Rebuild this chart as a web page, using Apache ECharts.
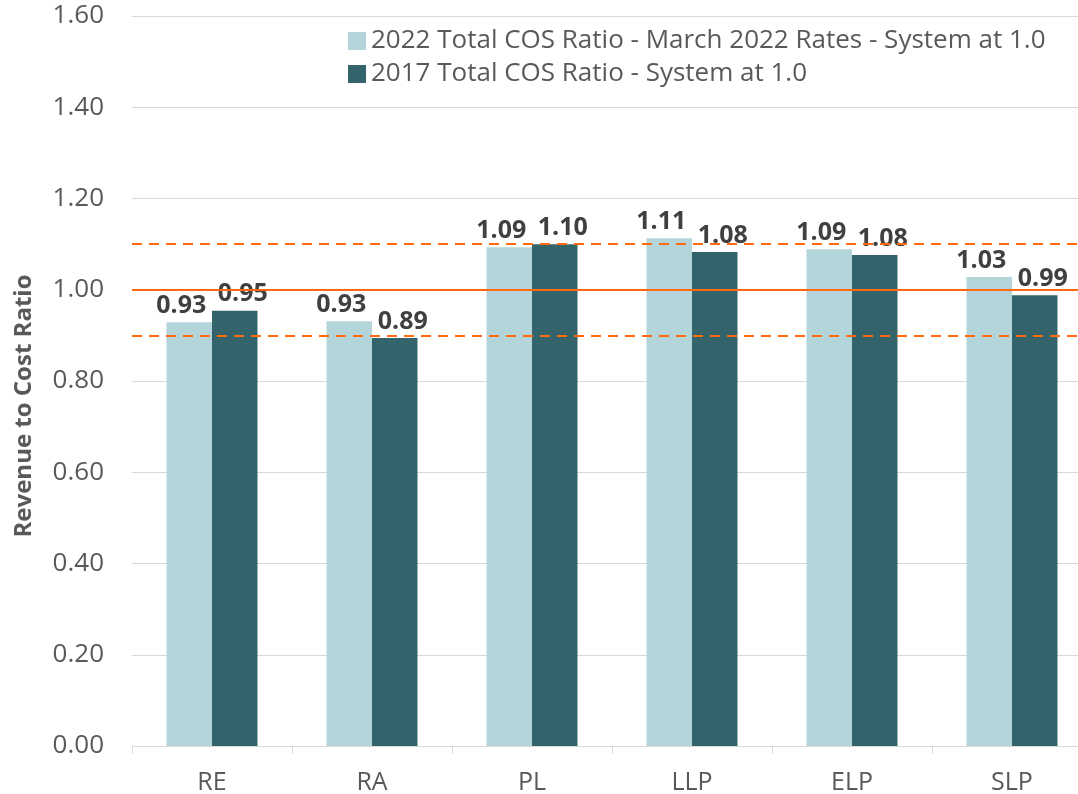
<!DOCTYPE html>
<html>
<head>
<meta charset="utf-8">
<script src="https://cdn.jsdelivr.net/npm/echarts@6/dist/echarts.min.js"></script>
<style>
  html, body { margin: 0; padding: 0; background: #fff; overflow: hidden; }
  #main { width: 1092px; height: 794px; }
</style>
</head>
<body>
<div id="main"></div>
<script>
// 图表数据
var categories = ["RE", "RA", "PL", "LLP", "ELP", "SLP"];
var ratio2022 = [0.929, 0.931, 1.093, 1.113, 1.089, 1.028];
var ratio2017 = [0.954, 0.894, 1.100, 1.083, 1.076, 0.988];
var seriesNames = [
  "2022 Total COS Ratio - March 2022 Rates - System at 1.0",
  "2017 Total COS Ratio - System at 1.0"
];
var bandLines = [1.10, 1.00, 0.90];
var yTicks = { min: 0, max: 1.6, interval: 0.2 };

var FONT = "'Open Sans', 'Noto Sans', sans-serif";
// 图表比画布宽一点，右边被裁掉（和原图一样）
var chart = echarts.init(document.getElementById("main"));

var lineColor = "#FF6A10";
var markData = bandLines.map(function (v) {
  return {
    yAxis: v,
    lineStyle: {
      color: lineColor,
      width: 2,
      type: v === 1 ? "solid" : [10, 7]
    }
  };
});

function makeLabel(dx) {
  return {
    show: true,
    position: "top",
    distance: 4,
    offset: [dx, 0],
    fontFamily: FONT,
    fontSize: 25,
    fontWeight: "bold",
    color: "#404040",
    formatter: function (p) { return p.value.toFixed(2); }
  };
}

chart.setOption({
  animation: false,
  backgroundColor: "#fff",
  grid: {
    left: 132,
    right: 0,
    top: 16,
    bottom: 48,
    containLabel: false,
    outerBoundsMode: "none"
  },
  legend: {
    orient: "vertical",
    left: 343,
    top: 23,
    itemWidth: 18,
    itemHeight: 18,
    itemGap: 7,
    icon: "rect",
    textStyle: {
      fontFamily: FONT,
      fontSize: 26,
      color: "#595959"
    },
    data: seriesNames
  },
  xAxis: {
    type: "category",
    data: categories,
    axisLine: { lineStyle: { color: "#d9d9d9", width: 1 } },
    axisTick: { show: true, length: 8, lineStyle: { color: "#d9d9d9" } },
    axisLabel: {
      fontFamily: FONT,
      fontSize: 25,
      color: "#595959",
      margin: 24
    }
  },
  yAxis: {
    type: "value",
    min: yTicks.min,
    max: yTicks.max,
    interval: yTicks.interval,
    name: "Revenue to Cost Ratio",
    nameLocation: "middle",
    nameGap: 96,
    nameTextStyle: {
      fontFamily: FONT,
      fontSize: 24,
      fontWeight: "bold",
      color: "#595959",
      padding: [0, 50, 0, 0]
    },
    axisLine: { show: false },
    axisTick: { show: false },
    axisLabel: {
      fontFamily: FONT,
      fontSize: 26,
      color: "#595959",
      margin: 28,
      formatter: function (v) { return v.toFixed(2); }
    },
    splitLine: { lineStyle: { color: "#d9d9d9", width: 1 } }
  },
  series: [
    {
      name: seriesNames[0],
      type: "bar",
      data: ratio2022,
      barWidth: 45.5,
      barGap: "0%",
      itemStyle: { color: "#B3D5DA" },
      label: makeLabel(-8),
      markLine: {
        silent: true,
        symbol: "none",
        label: { show: false },
        data: markData
      }
    },
    {
      name: seriesNames[1],
      type: "bar",
      data: ratio2017,
      barWidth: 45.5,
      barGap: "0%",
      itemStyle: { color: "#33646B" },
      label: makeLabel(8)
    }
  ]
});
</script>
</body>
</html>
